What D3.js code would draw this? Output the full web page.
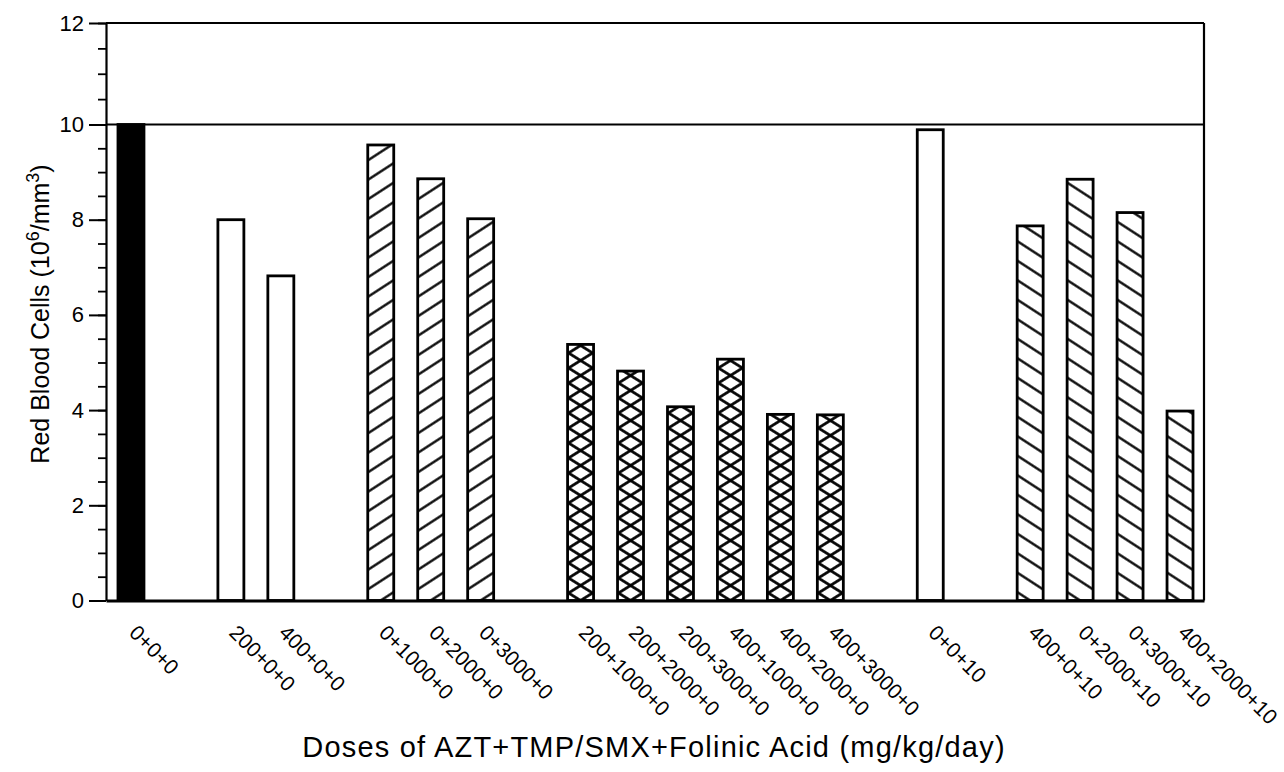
<!DOCTYPE html>
<html>
<head>
<meta charset="utf-8">
<script src="https://cdn.jsdelivr.net/npm/d3@7"></script>
<style>
  html, body { margin: 0; padding: 0; background: #fff; }
  svg { display: block; font-family: "Liberation Sans", Arial, Helvetica, sans-serif; }
</style>
</head>
<body>
<svg id="chart" width="1284" height="772"></svg>
<script>
// ---- data ----
const groups = [
  ["0+0+0"],
  ["200+0+0", "400+0+0"],
  ["0+1000+0", "0+2000+0", "0+3000+0"],
  ["200+1000+0", "200+2000+0", "200+3000+0", "400+1000+0", "400+2000+0", "400+3000+0"],
  ["0+0+10"],
  ["400+0+10", "0+2000+10", "0+3000+10", "400+2000+10"]
];
const values = [10.0, 8.0, 6.82, 9.57, 8.86, 8.02, 5.38, 4.82, 4.07, 5.07, 3.91, 3.90, 9.89, 7.87, 8.85, 8.15, 3.98];
const yTickValues = [0, 2, 4, 6, 8, 10, 12];
const yTitle = "Red Blood Cells (10";
const xTitle = "Doses of AZT+TMP/SMX+Folinic Acid (mg/kg/day)";

// ---- styles (fill type per group) ----
const groupFill = ["solid", "open", "up", "cross", "open", "down"];

// build flat records with slot index (one empty slot between groups)
const bars = [];
let slot = 0, vi = 0;
groups.forEach((g, gi) => {
  g.forEach(label => {
    bars.push({ label, value: values[vi++], slot, group: gi });
    slot++;
  });
  slot++;
});

const svg = d3.select("#chart");
const left = 106, right = 1204;
const x = d3.scaleLinear().domain([-0.5, 21.48]).range([left, right]);
const y = d3.scaleLinear().domain([0, 10, 12]).range([600.5, 124.5, 23]);
const barW = x(0.26) - x(-0.26);

const defs = svg.append("defs");
function hatch(id, cx, angle, vSpacing, sw) {
  const lineAng = (90 - Math.abs(angle)) * Math.PI / 180; // angle of lines from horizontal
  const s = vSpacing * Math.cos(lineAng);
  const p = defs.append("pattern")
    .attr("id", id)
    .attr("patternUnits", "userSpaceOnUse")
    .attr("width", s).attr("height", 20)
    .attr("patternTransform", `translate(${cx},${y(0)}) rotate(${angle}) translate(${-s / 2},0)`);
  p.append("line").attr("x1", s / 2).attr("x2", s / 2).attr("y1", -5).attr("y2", 25)
    .attr("stroke", "#000").attr("stroke-width", sw);
}

const g = svg.append("g");

// bars
bars.forEach((d, i) => {
  const cx = x(d.slot);
  const bx = cx - barW / 2, by = y(d.value), bh = y(0) - y(d.value);
  const type = groupFill[d.group];
  g.append("rect").attr("x", bx).attr("y", by).attr("width", barW).attr("height", bh)
    .attr("fill", type === "solid" ? "#000" : "#fff");
  if (type === "up" || type === "cross") {
    const v = type === "cross" ? 15 : 19.5;
    const ang = type === "cross" ? 58 : 57;
    hatch(`u${i}`, cx, ang, v, type === "cross" ? 2.7 : 2.3);
    g.append("rect").attr("x", bx).attr("y", by).attr("width", barW).attr("height", bh)
      .attr("fill", `url(#u${i})`);
  }
  if (type === "down" || type === "cross") {
    const v = type === "cross" ? 15 : 19.5;
    const ang = type === "cross" ? -58 : -57;
    hatch(`d${i}`, cx, ang, v, type === "cross" ? 2.7 : 2.3);
    g.append("rect").attr("x", bx).attr("y", by).attr("width", barW).attr("height", bh)
      .attr("fill", `url(#d${i})`);
  }
  g.append("rect").attr("x", bx).attr("y", by).attr("width", barW).attr("height", bh)
    .attr("fill", "none").attr("stroke", "#000").attr("stroke-width", 2.8);
});

// frame lines
const frame = svg.append("g").attr("stroke", "#000").attr("fill", "none");
frame.append("line").attr("x1", left).attr("x2", right).attr("y1", y(12)).attr("y2", y(12)).attr("stroke-width", 2.2);
frame.append("line").attr("x1", left).attr("x2", right).attr("y1", y(10)).attr("y2", y(10)).attr("stroke-width", 2.2);
frame.append("line").attr("x1", right).attr("x2", right).attr("y1", y(12)).attr("y2", y(0)).attr("stroke-width", 2.2);

// bottom axis (line only)
const xAxis = d3.axisBottom(x).tickValues([]).tickSizeOuter(0);
svg.append("g").attr("transform", `translate(0,${y(0)})`).call(xAxis)
  .call(s => s.select(".domain").attr("stroke-width", 2.8));

// left axis: minor ticks
const minor = d3.axisLeft(y).tickValues(d3.range(0, 12.01, 0.5)).tickSize(8).tickFormat("").tickSizeOuter(0);
svg.append("g").attr("transform", `translate(${left},0)`).call(minor)
  .call(s => s.select(".domain").remove())
  .call(s => s.selectAll(".tick line").attr("stroke-width", 1.8));
// left axis: major ticks + labels
const major = d3.axisLeft(y).tickValues(yTickValues).tickSize(17).tickPadding(5).tickSizeOuter(0);
svg.append("g").attr("transform", `translate(${left},0)`).call(major)
  .call(s => s.select(".domain").attr("stroke-width", 2.2))
  .call(s => s.selectAll(".tick line").attr("stroke-width", 2))
  .call(s => s.selectAll(".tick text").attr("font-size", 22)
    .attr("font-family", "'Liberation Sans', Arial, sans-serif").attr("fill", "#000"));

// x tick labels (rotated)
svg.append("g").selectAll("text").data(bars).join("text")
  .attr("transform", d => `translate(${x(d.slot) - 3},634) rotate(45)`)
  .attr("font-size", 21)
  .attr("text-anchor", "start")
  .text(d => d.label);

// y title
const yt = svg.append("text")
  .attr("transform", `translate(49,314) rotate(-90)`)
  .attr("text-anchor", "middle")
  .attr("font-size", 25);
yt.append("tspan").text(yTitle);
yt.append("tspan").attr("font-size", 18).attr("dy", -10).text("6");
yt.append("tspan").attr("dy", 10).text("/mm");
yt.append("tspan").attr("font-size", 18).attr("dy", -10).text("3");
yt.append("tspan").attr("dy", 10).text(")");

// x title
svg.append("text")
  .attr("x", 654).attr("y", 757)
  .attr("text-anchor", "middle")
  .attr("font-size", 29)
  .attr("letter-spacing", 1.2)
  .text(xTitle);
</script>
</body>
</html>
